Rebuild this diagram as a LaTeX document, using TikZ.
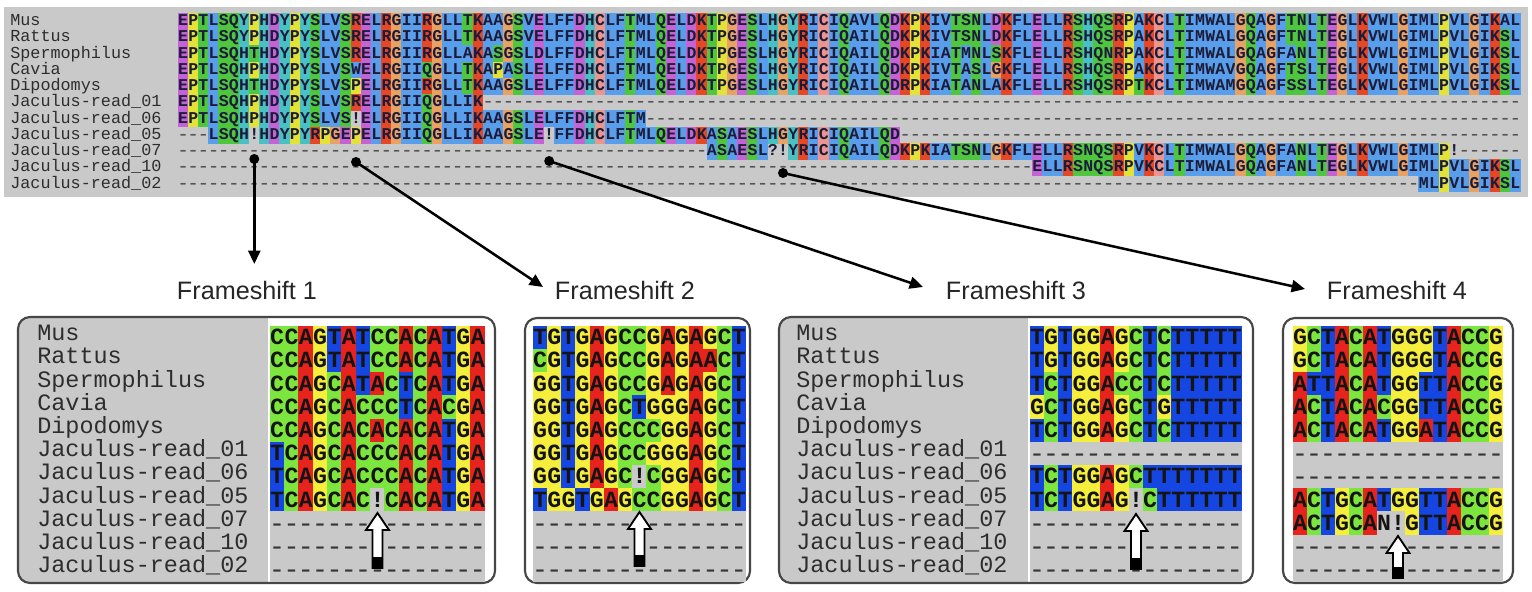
\documentclass[tikz,border=0pt]{standalone}
\usepackage{fontspec}
\usepackage{graphicx}
\setmainfont{Liberation Sans}
\newfontfamily\monof{Liberation Mono}
\usetikzlibrary{arrows.meta}

\definecolor{bggray}{RGB}{201,201,201}
\definecolor{aaB}{RGB}{88,158,235}
\definecolor{aaR}{RGB}{228,72,38}
\definecolor{aaM}{RGB}{196,98,214}
\definecolor{aaG}{RGB}{78,198,62}
\definecolor{aaO}{RGB}{232,162,100}
\definecolor{aaY}{RGB}{226,226,56}
\definecolor{aaC}{RGB}{72,192,196}
\definecolor{aaP}{RGB}{236,148,142}
\definecolor{aaletter}{RGB}{28,28,58}
\definecolor{aadash}{RGB}{85,85,85}
\definecolor{ntA}{RGB}{230,35,28}
\definecolor{ntC}{RGB}{125,230,62}
\definecolor{ntG}{RGB}{246,238,60}
\definecolor{ntT}{RGB}{22,70,226}
\definecolor{ntletter}{RGB}{20,20,20}
\definecolor{ntdash}{RGB}{55,55,55}
\definecolor{namecol}{RGB}{45,45,45}
\definecolor{boxcol}{RGB}{70,70,70}

% ---- colour maps ----
\def\qmap#1#2#3{\def\qtmpc{#2}\def\qtmpp{#1}\qmaploop#3\relax}
\def\qmaploop#1{\ifx\relax#1\else\expandafter\edef\csname\qtmpp col#1\endcsname{\qtmpc}\expandafter\qmaploop\fi}
\qmap{aa}{aaB}{AILMFWV}
\qmap{aa}{aaR}{KR}
\qmap{aa}{aaM}{ED}
\qmap{aa}{aaG}{NQST}
\qmap{aa}{aaO}{G}
\qmap{aa}{aaY}{P}
\qmap{aa}{aaC}{HY}
\qmap{aa}{aaP}{C}
\qmap{nt}{ntA}{A}
\qmap{nt}{ntC}{C}
\qmap{nt}{ntG}{G}
\qmap{nt}{ntT}{T}
\qmap{nt}{bggray}{-!N}
\expandafter\def\csname aatc-\endcsname{aadash}
\expandafter\def\csname nttc-\endcsname{ntdash}

% ---- alignment row machinery ----
\newcount\cellidx
\newcount\ncols
\newcount\dashtarget
\def\alncell#1{%
  \pgfmathsetmacro\qcx{\qx+(\the\cellidx+0.5)*\qw}%
  \ifcsname\qp col#1\endcsname
    \edef\qfc{\csname\qp col#1\endcsname}%
    \fill[fill=\qfc] ({\qcx-\qw/2-0.3},{\qy-\qh/2-0.3}) rectangle ++({\qw+0.6},{\qh+0.6});%
  \fi
  \ifcsname\qp tc#1\endcsname\edef\qtc{\csname\qp tc#1\endcsname}\else\edef\qtc{\qp letter}\fi
  \ifx-#1\def\qtxt{\dashglyph}\else\def\qtxt{#1}\fi
  \node[celltxt, text=\qtc] (\qid c\the\cellidx) at (\qcx,{\qy+\qb}) {\qtxt};%
}
\def\dashrun{\ifnum\cellidx<\dashtarget \alncell{-}\advance\cellidx by 1 \expandafter\dashrun\fi}
\def\alnloop#1{\ifx\relax#1\else\alncell{#1}\advance\cellidx by 1 \expandafter\alnloop\fi}
\def\alnrow#1#2#3#4{%
  \def\qid{#1}\def\qy{#2}\cellidx=0 \dashtarget=#3\relax
  \dashrun
  \alnloop#4\relax
  \dashtarget=\ncols \dashrun}

\def\fsarrow#1#2#3{%
  \filldraw[fill=white, draw=black, line width=1.4pt, line join=miter]
    (#1,#2) -- (#1+11.5,#2+17) -- (#1+5,#2+17) -- (#1+5,#3) -- (#1-5,#3)
    -- (#1-5,#2+17) -- (#1-11.5,#2+17) -- cycle;
  \fill[black] (#1-5,#3-11) rectangle (#1+5,#3);}

\tikzset{
  aatxt/.style={anchor=base, inner sep=0pt, outer sep=0pt, font=\monof\bfseries\fontsize{12.4}{12.4}\selectfont},
  nttxt/.style={anchor=base, inner sep=0pt, outer sep=0pt, font=\monof\bfseries\fontsize{17.4}{17.4}\selectfont},
  topname/.style={anchor=base west, inner sep=0pt, text=namecol, font=\monof\fontsize{12.6}{12.6}\selectfont},
  pname/.style={anchor=base west, inner sep=0pt, text=namecol, font=\monof\fontsize{17.6}{17.6}\selectfont},
  fstitle/.style={inner sep=0pt, text=black!85, font=\fontsize{18.9}{18.9}\selectfont},
  panelbox/.style={draw=boxcol, line width=1.6pt, rounded corners=9pt},
  link/.style={line width=1.9pt, -{Triangle[length=10pt,width=9pt]}},
  fsdot/.style={circle, fill=black, inner sep=0pt, minimum size=7.5pt},
}

\begin{document}
\begin{tikzpicture}[x=0.75pt,y=-0.75pt]
\useasboundingbox (0,0) rectangle (1532,592);
\fill[white] (0,0) rectangle (1532,592);

% ================= top protein alignment =================
\fill[bggray] (4,7) rectangle (1528,197);
\def\qx{178}\def\qw{10.17}\def\qh{16.25}\def\qp{aa}\def\qb{4.2}\ncols=132
\def\dashglyph{\fontsize{8.9}{8.9}\selectfont\scalebox{1}[1.4]{–}}
\tikzset{celltxt/.style=aatxt}
\foreach \nm [count=\i from 0] in {Mus,Rattus,Spermophilus,Cavia,Dipodomys,Jaculus-read\_01,Jaculus-read\_06,Jaculus-read\_05,Jaculus-read\_07,Jaculus-read\_10,Jaculus-read\_02}
  \node[topname] (tn\i) at (10,{21.4+16.25*\i+4.2}) {\nm};
\alnrow{ta}{21.4}{0}{EPTLSQYPHDYPYSLVSRELRGIIRGLLTKAAGSVELFFDHCLFTMLQELDKTPGESLHGYRICIQAVLQDKPKIVTSNLDKFLELLRSHQSRPAKCLTIMWALGQAGFTNLTEGLKVWLGIMLPVLGIKAL}
\alnrow{tb}{37.65}{0}{EPTLSQYPHDYPYSLVSRELRGIIRGLLTKAAGSVELFFDHCLFTMLQELDKTPGESLHGYRICIQAILQDKPKIVTSNLDKFLELLRSHQSRPAKCLTIMWALGQAGFTNLTEGLKVWLGIMLPVLGIKSL}
\alnrow{tc}{53.9}{0}{EPTLSQHTHDYPYSLVSRELRGIIRGLLAKASGSLDLFFDHCLFTMLQELDKTPGESLHGYRICIQAILQDKPKIATMNLSKFLELLRSHQNRPAKCLTIMWALGQAGFANLTEGLKVWLGIMLPVLGIKSL}
\alnrow{td}{70.15}{0}{EPTLSQHPHDYPYSLVSWELRGIIQGLLTKAPASLELFFDHCLFTMLQELDKTPGESLHGYRICIQAILQDKPKIVTASLGKFLELLRSHQSRPAKCLTIMWAVGQAGFTSLTEGLKVWLGIMLPVLGIKSL}
\alnrow{te}{86.4}{0}{EPTLSQHTHDYPYSLVSPELRGIIRGLLTKAAGSLELFFDHCLFTMLQELDKTPGESLHGYRICIQAILQDRPKIATANLAKFLELLRSHQSRPTKCLTIMWAMGQAGFSSLTEGLKVWLGIMLPVLGIKSL}
\alnrow{tf}{102.65}{0}{EPTLSQHPHDYPYSLVSRELRGIIQGLLIK}
\alnrow{tg}{118.9}{0}{EPTLSQHPHDYPYSLVS!ELRGIIQGLLIKAAGSLELFFDHCLFTM}
\alnrow{th}{135.15}{3}{LSQH!HDYPYRPGEPELRGIIQGLLIKAAGSLE!FFDHCLFTMLQELDKASAESLHGYRICIQAILQD}
\alnrow{ti}{151.4}{52}{ASAESL?!YRICIQAILQDKPKIATSNLGKFLELLRSNQSRPVKCLTIMWALGQAGFANLTEGLKVWLGIMLP!}
\alnrow{tj}{167.65}{84}{ELLRSNQSRPVKCLTIMWALGQAGFANLTEGLKVWLGIMLPVLGIKSL}
\alnrow{tk}{183.9}{122}{MLPVLGIKSL}

% ================= frameshift markers, titles, links =================
\node[fsdot] (d1) at (254.3,159) {};
\node[fsdot] (d2) at (356,162) {};
\node[fsdot] (d3) at (549.2,161) {};
\node[fsdot] (d4) at (783,173) {};
\node[fstitle] (fs1) at (247,290) {Frameshift 1};
\node[fstitle] (fs2) at (625,290) {Frameshift 2};
\node[fstitle] (fs3) at (1016,290) {Frameshift 3};
\node[fstitle] (fs4) at (1397,290) {Frameshift 4};
\coordinate (tip1) at (254.3,264);
\coordinate (tip2) at (543,287);
\coordinate (tip3) at (923,287);
\coordinate (tip4) at (1305,289);
\draw[link] (d1.center) -- (tip1);
\draw[link] (d2.center) -- (tip2);
\draw[link] (d3.center) -- (tip3);
\draw[link] (d4.center) -- (tip4);

% ================= nucleotide panels =================
\def\qp{nt}\def\qh{23.2}\def\qb{7}\ncols=15
\def\dashglyph{\fontsize{12.4}{12.4}\selectfont\scalebox{1}[1.3]{–}}
\tikzset{celltxt/.style=nttxt}

% ---- panel 1 ----
\begin{scope}
\clip[rounded corners=9pt] (18,317) rectangle (495,583);
\fill[bggray] (18,317) rectangle (268,583);
\end{scope}
\draw[panelbox] (18,317) rectangle (495,583);
\foreach \nm [count=\i from 0] in {Mus,Rattus,Spermophilus,Cavia,Dipodomys,Jaculus-read\_01,Jaculus-read\_06,Jaculus-read\_05,Jaculus-read\_07,Jaculus-read\_10,Jaculus-read\_02}
  \node[pname] (pa\i) at (37,{337.6+23.2*\i+3}) {\nm};
\def\qx{270}\def\qw{14.33}
\alnrow{aa}{337.6}{0}{CCAGTATCCACATGA}
\alnrow{ab}{360.8}{0}{CCAGTATCCACATGA}
\alnrow{ac}{384.0}{0}{CCAGCATACTCATGA}
\alnrow{ad}{407.2}{0}{CCAGCACCCTCACGA}
\alnrow{ae}{430.4}{0}{CCAGCACACACATGA}
\alnrow{af}{453.6}{0}{TCAGCACCCACATGA}
\alnrow{ag}{476.8}{0}{TCAGCACCCACATGA}
\alnrow{ah}{500.0}{0}{TCAGCAC!CACATGA}
\alnrow{ai}{523.2}{0}{}
\alnrow{aj}{546.4}{0}{}
\alnrow{ak}{569.6}{0}{}
\fsarrow{377.5}{513}{568}

% ---- panel 2 ----
\draw[panelbox] (525,318) rectangle (750,583);
\def\qx{533}\def\qw{14.2}
\alnrow{ba}{337.6}{0}{TGTGAGCCGAGAGCT}
\alnrow{bb}{360.8}{0}{CGTGAGCCGAGAACT}
\alnrow{bc}{384.0}{0}{GGTGAGCCGAGAGCT}
\alnrow{bd}{407.2}{0}{GGTGAGCTGGGAGCT}
\alnrow{be}{430.4}{0}{GGTGAGCCCGGAGCT}
\alnrow{bf}{453.6}{0}{GGTGAGCCGGGAGCT}
\alnrow{bg}{476.8}{0}{GGTGAGC!CGGAGCT}
\alnrow{bh}{500.0}{0}{TGGTGAGCCGGAGCT}
\alnrow{bi}{523.2}{0}{}
\alnrow{bj}{546.4}{0}{}
\alnrow{bk}{569.6}{0}{}
\fsarrow{639.5}{512}{566}

% ---- panel 3 ----
\begin{scope}
\clip[rounded corners=9pt] (779,317) rectangle (1253,583);
\fill[bggray] (779,317) rectangle (1028,583);
\end{scope}
\draw[panelbox] (779,317) rectangle (1253,583);
\foreach \nm [count=\i from 0] in {Mus,Rattus,Spermophilus,Cavia,Dipodomys,Jaculus-read\_01,Jaculus-read\_06,Jaculus-read\_05,Jaculus-read\_07,Jaculus-read\_10,Jaculus-read\_02}
  \node[pname] (pc\i) at (796,{337.6+23.2*\i+3}) {\nm};
\def\qx{1030}\def\qw{14.13}
\alnrow{ca}{337.6}{0}{TGTGGAGCTCTTTTT}
\alnrow{cb}{360.8}{0}{TGTGGAGCTCTTTTT}
\alnrow{cc}{384.0}{0}{TCTGGACCTCTTTTT}
\alnrow{cd}{407.2}{0}{GCTGGAGCTGTTTTT}
\alnrow{ce}{430.4}{0}{TCTGGAGCTCTTTTT}
\alnrow{cf}{453.6}{0}{}
\alnrow{cg}{476.8}{0}{TCTGGAGCTTTTTTT}
\alnrow{ch}{500.0}{0}{TCTGGAG!CTTTTTT}
\alnrow{ci}{523.2}{0}{}
\alnrow{cj}{546.4}{0}{}
\alnrow{ck}{569.6}{0}{}
\fsarrow{1136}{514}{569}

% ---- panel 4 ----
\draw[panelbox] (1283,318) rectangle (1513,583);
\def\qx{1293}\def\qw{14.0}
\alnrow{da}{337.6}{0}{GCTACATGGGTACCG}
\alnrow{db}{360.8}{0}{GCTACATGGGTACCG}
\alnrow{dc}{384.0}{0}{ATTACATGGTTACCG}
\alnrow{dd}{407.2}{0}{ACTACACGGTTACCG}
\alnrow{de}{430.4}{0}{ACTACATGGATACCG}
\alnrow{df}{453.6}{0}{}
\alnrow{dg}{476.8}{0}{}
\alnrow{dh}{500.0}{0}{ACTGCATGGTTACCG}
\alnrow{di}{523.2}{0}{ACTGCAN!GTTACCG}
\alnrow{dj}{546.4}{0}{}
\alnrow{dk}{569.6}{0}{}
\fsarrow{1398}{536}{578}
\end{tikzpicture}
\end{document}
